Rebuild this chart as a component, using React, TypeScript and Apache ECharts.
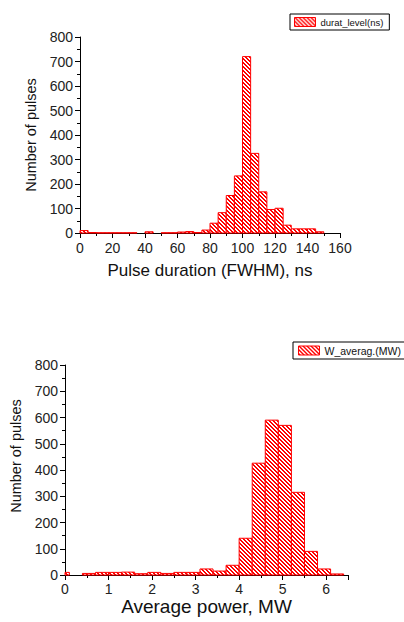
import React, { useEffect, useRef } from "react";
import * as echarts from "echarts";

// Pulse duration histogram (bin start, ns; bin width 5 ns)
const durationBinStart = [0, 5, 10, 15, 20, 25, 30, 35, 40, 45, 50, 55, 60, 65, 70, 75, 80, 85, 90, 95, 100, 105, 110, 115, 120, 125, 130, 135, 140, 145];
const durationCounts = [10, 2, 1, 1, 1, 1, 1, 0, 5, 0, 1, 1, 4, 6, 2, 12, 40, 83, 153, 233, 720, 325, 168, 96, 101, 32, 17, 17, 17, 5];
const durationBinWidth = 5;

// Average power histogram (bin start, MW; bin width 0.3 MW)
const powerBinStart = [-0.2, 0.1, 0.4, 0.7, 1.0, 1.3, 1.6, 1.9, 2.2, 2.5, 2.8, 3.1, 3.4, 3.7, 4.0, 4.3, 4.6, 4.9, 5.2, 5.5, 5.8, 6.1];
const powerCounts = [10, 0, 6, 10, 10, 11, 5, 10, 6, 10, 10, 23, 15, 37, 140, 426, 590, 570, 315, 90, 23, 4];
const powerBinWidth = 0.3;

const durationTicks = { min: 0, max: 160, interval: 20 };
const powerTicks = { min: 0, max: 6.5, interval: 1 };
const countTicks = { min: 0, max: 800, interval: 100 };

const FONT = "'Liberation Sans', Arial, sans-serif";

function makePattern(): HTMLCanvasElement {
  const c = document.createElement("canvas");
  c.width = 4;
  c.height = 4;
  const ctx = c.getContext("2d")!;
  const img = ctx.createImageData(4, 4);
  for (let y = 0; y < 4; y++) {
    for (let x = 0; x < 4; x++) {
      const i = (y * 4 + x) * 4;
      const red = (x - y + 8) % 4 < 2;
      img.data[i] = 255;
      img.data[i + 1] = red ? 0 : 255;
      img.data[i + 2] = red ? 0 : 255;
      img.data[i + 3] = 255;
    }
  }
  ctx.putImageData(img, 0, 0);
  return c;
}

export default function App() {
  const ref = useRef<HTMLDivElement>(null);
  useEffect(() => {
    if (!ref.current) return;
    const chart = echarts.init(ref.current, undefined, { renderer: "svg" });
    const pattern: any = { image: makePattern(), repeat: "repeat" };

    const durationData = durationBinStart.map((s, i) => [s, s + durationBinWidth, durationCounts[i]]);
    const powerData = powerBinStart.map((s, i) => [s, s + powerBinWidth, powerCounts[i]]);

    const renderItem = (params: any, api: any) => {
      const x0 = api.value(0);
      const x1 = api.value(1);
      const v = api.value(2);
      if (!v) return null;
      const p0 = api.coord([x0, v]);
      const p1 = api.coord([x1, 0]);
      const cs = params.coordSys;
      const left = Math.max(p0[0], cs.x);
      const right = Math.min(p1[0], cs.x + cs.width);
      return {
        type: "rect",
        shape: { x: left, y: p0[1], width: right - left, height: p1[1] - p0[1] },
        style: { fill: pattern, stroke: "#ff0000", lineWidth: 1 },
      };
    };

    const axisCommon = {
      axisLine: { show: true, lineStyle: { color: "#000", width: 1 } },
      axisTick: { show: true, inside: false, length: 5, lineStyle: { color: "#000" } },
      minorTick: { show: true, splitNumber: 2, length: 3, lineStyle: { color: "#000" } },
      splitLine: { show: false },
      minorSplitLine: { show: false },
    };

    const legendCommon = {
      orient: "horizontal",
      borderColor: "#000",
      borderWidth: 1,
      itemWidth: 21,
      itemHeight: 9,
      itemGap: 5,
      borderRadius: 0,
      icon: "rect",
      selectedMode: false,
    };

    chart.setOption({
      animation: false,
      backgroundColor: "#fff",
      grid: [
        { left: 80, top: 37, width: 260, height: 196 },
        { left: 65, top: 365, width: 283, height: 210 },
      ],
      xAxis: [
        {
          gridIndex: 0,
          type: "value",
          ...durationTicks,
          ...axisCommon,
          axisLabel: { fontSize: 14, color: "#222", margin: 8, fontFamily: FONT },
          name: "Pulse duration (FWHM), ns",
          nameLocation: "middle",
          nameGap: 29,
          nameTextStyle: { fontSize: 17, color: "#111", fontFamily: FONT },
        },
        {
          gridIndex: 1,
          type: "value",
          ...powerTicks,
          ...axisCommon,
          axisLabel: { fontSize: 14, color: "#222", margin: 7, fontFamily: FONT, showMaxLabel: false },
          name: "Average power, MW",
          nameLocation: "middle",
          nameGap: 21,
          nameTextStyle: { fontSize: 19, color: "#111", fontFamily: FONT },
        },
      ],
      yAxis: [
        {
          gridIndex: 0,
          type: "value",
          ...countTicks,
          ...axisCommon,
          axisLabel: { fontSize: 14, color: "#222", margin: 7, fontFamily: FONT },
          name: "Number of pulses",
          nameLocation: "middle",
          nameGap: 40,
          nameTextStyle: { fontSize: 14.5, color: "#111", fontFamily: FONT },
        },
        {
          gridIndex: 1,
          type: "value",
          ...countTicks,
          ...axisCommon,
          axisLabel: { fontSize: 14, color: "#222", margin: 7, fontFamily: FONT },
          name: "Number of pulses",
          nameLocation: "middle",
          nameGap: 41,
          nameTextStyle: { fontSize: 14.5, color: "#111", fontFamily: FONT, padding: [0, 0, 0, 28] },
        },
      ],
      legend: [
        {
          ...legendCommon,
          left: 290,
          top: 14,
          padding: [3, 6, 3, 4],
          data: [
            {
              name: "durat_level(ns)",
              itemStyle: { color: pattern, borderColor: "#ff0000", borderWidth: 1 },
            },
          ],
          textStyle: { fontSize: 9.5, color: "#111", fontFamily: FONT },
        },
        {
          ...legendCommon,
          left: 293,
          top: 342,
          padding: [3, 4, 3, 5],
          data: [
            {
              name: "W_averag.(MW)",
              itemStyle: { color: pattern, borderColor: "#ff0000", borderWidth: 1 },
            },
          ],
          textStyle: { fontSize: 10.5, color: "#111", fontFamily: FONT },
        },
      ],
      series: [
        {
          name: "durat_level(ns)",
          type: "custom",
          xAxisIndex: 0,
          yAxisIndex: 0,
          renderItem,
          itemStyle: { color: pattern, borderColor: "#ff0000" },
          encode: { x: [0, 1], y: 2 },
          data: durationData,
        },
        {
          name: "W_averag.(MW)",
          type: "custom",
          xAxisIndex: 1,
          yAxisIndex: 1,
          renderItem,
          itemStyle: { color: pattern, borderColor: "#ff0000" },
          encode: { x: [0, 1], y: 2 },
          data: powerData,
        },
      ],
    });
    return () => chart.dispose();
  }, []);
  return (
    <div
      ref={ref}
      style={{ position: "absolute", left: 0, top: 0, width: 404, height: 622 }}
    />
  );
}
